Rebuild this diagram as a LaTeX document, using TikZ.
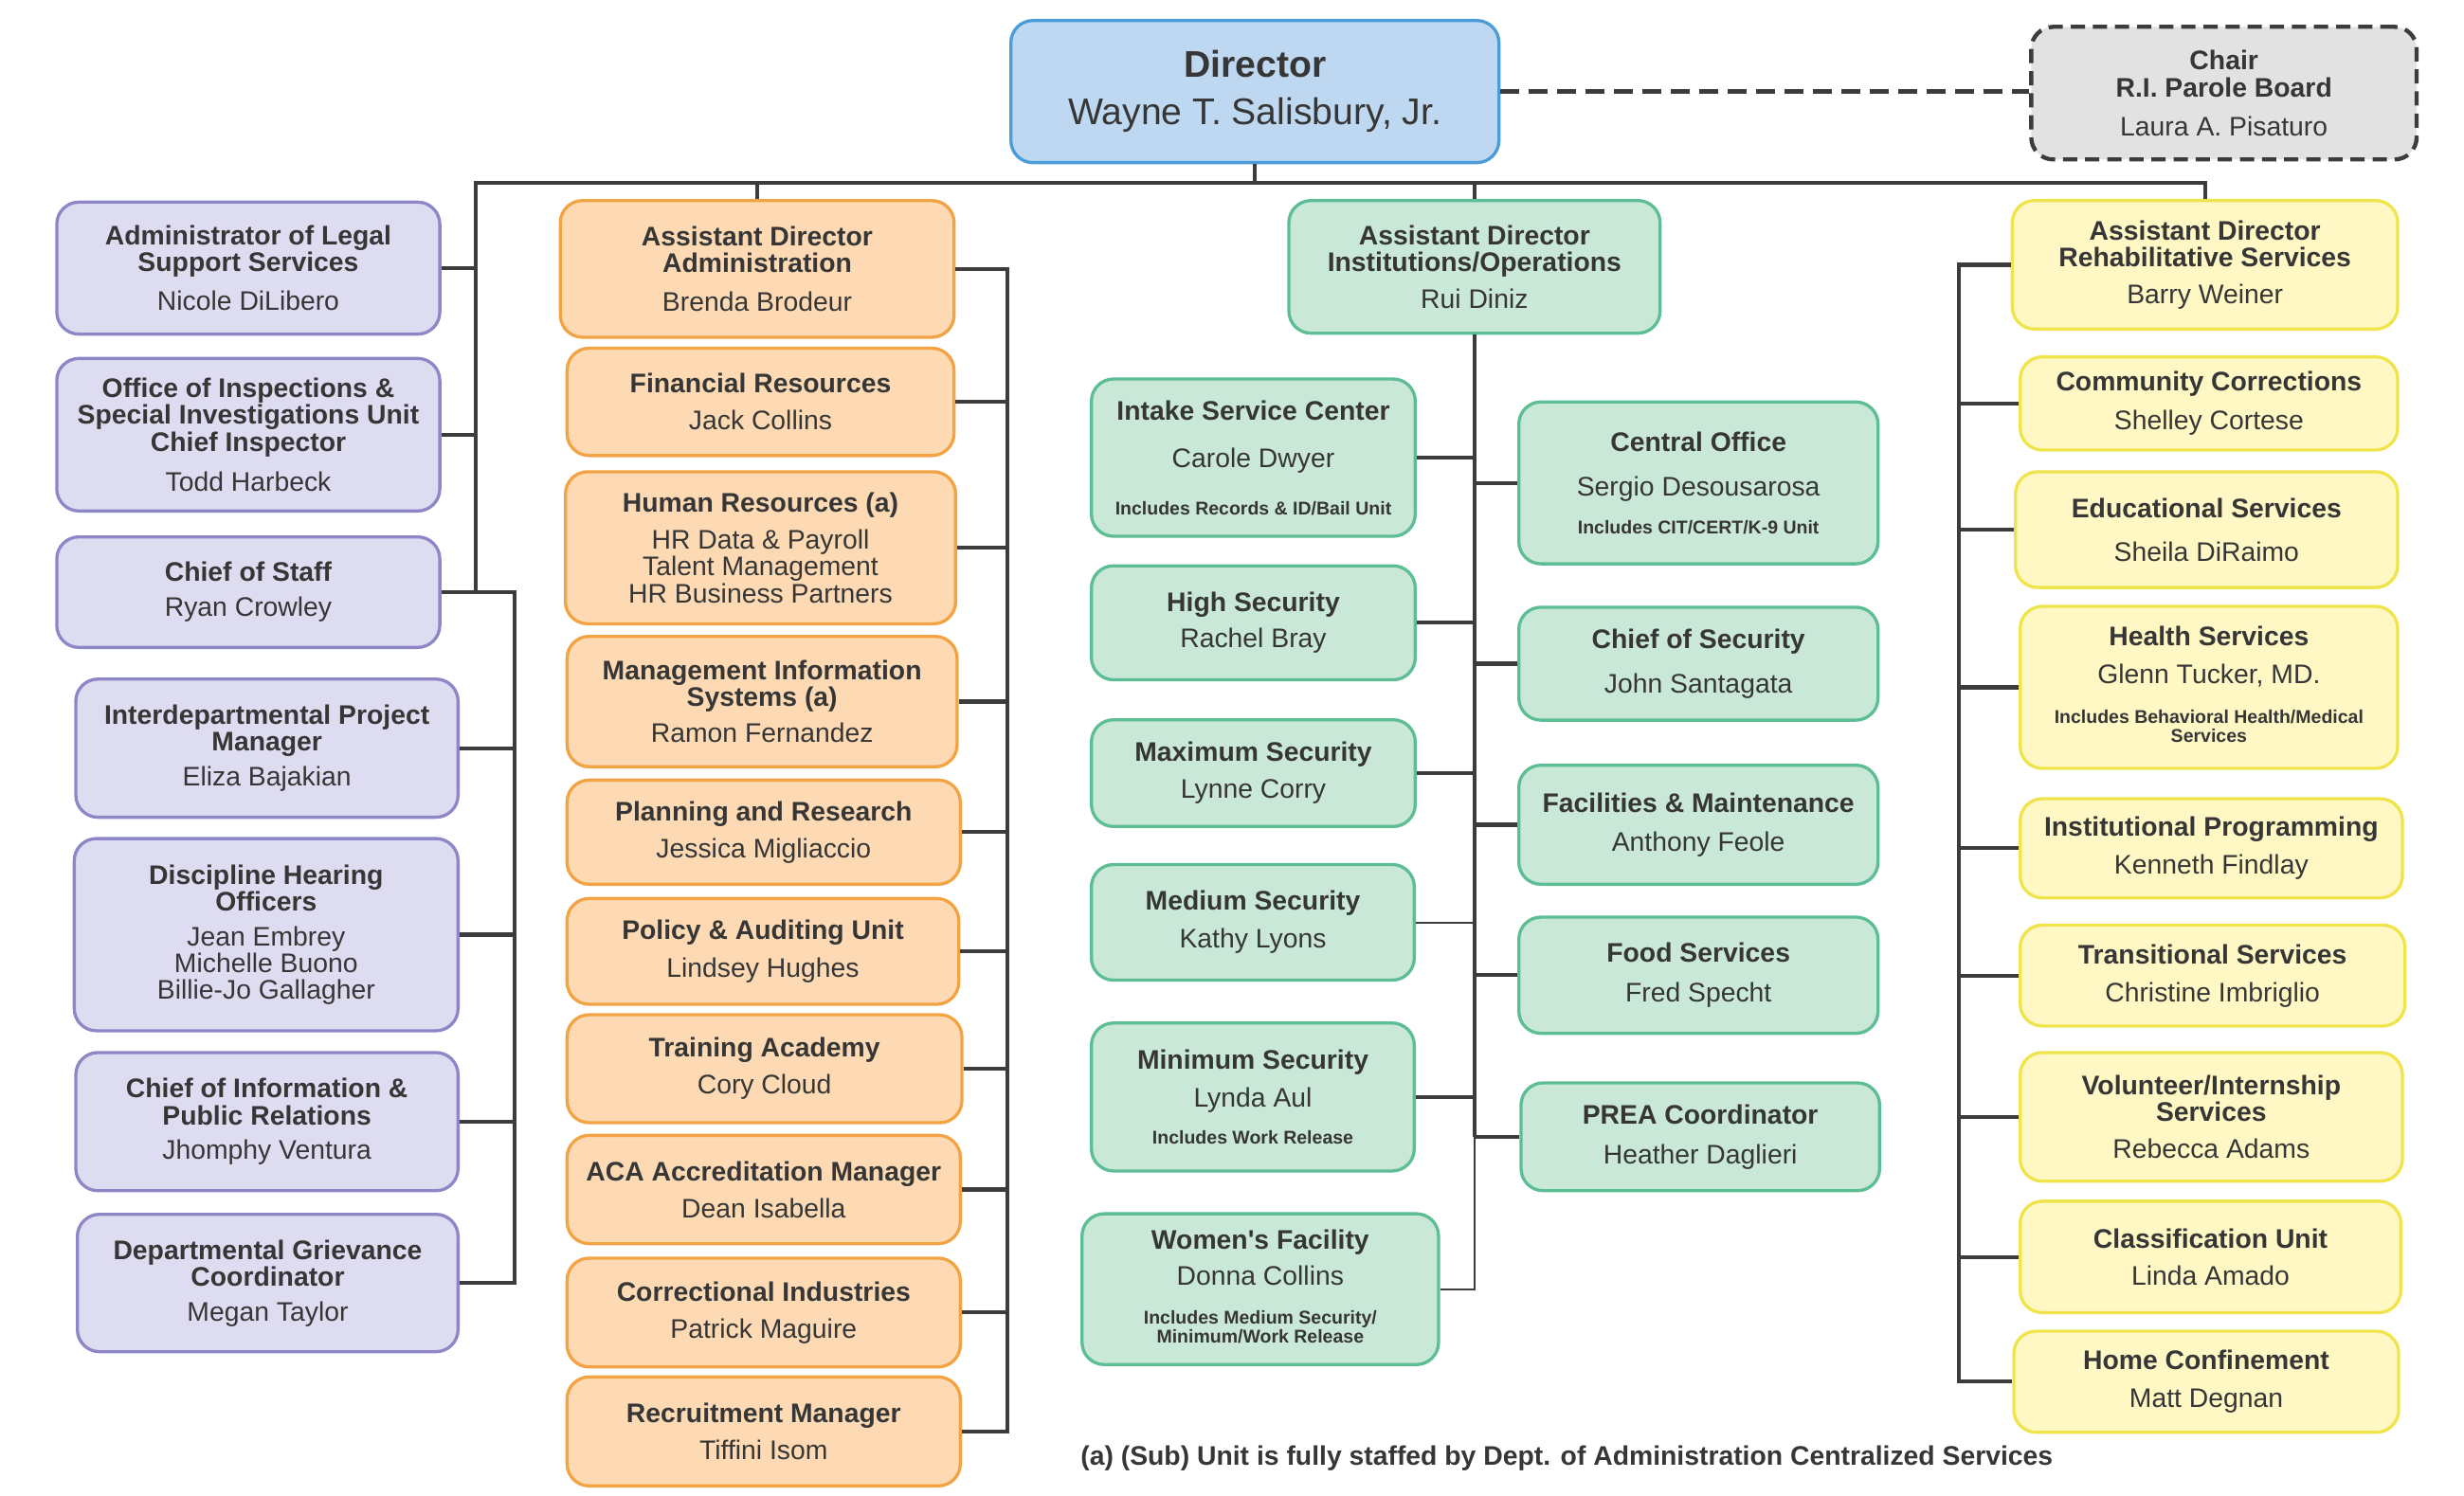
\documentclass[tikz,border=0pt]{standalone}
\usepackage{fontspec}
\setmainfont{Liberation Sans}
\usepackage{tikz}
\usetikzlibrary{shapes,arrows.meta}

\definecolor{txtGray}{HTML}{363636}
\definecolor{lineGray}{HTML}{3C3C3C}
\definecolor{dirFill}{HTML}{BFD8F1}
\definecolor{dirDraw}{HTML}{4A9DD8}
\definecolor{chairFill}{HTML}{E2E2E2}
\definecolor{purpleFill}{HTML}{DEDCF1}
\definecolor{purpleDraw}{HTML}{8E87C7}
\definecolor{orangeFill}{HTML}{FDDAB3}
\definecolor{orangeDraw}{HTML}{F2A445}
\definecolor{greenFill}{HTML}{CAE8D8}
\definecolor{greenDraw}{HTML}{5DBD95}
\definecolor{yellowFill}{HTML}{FFF8C5}
\definecolor{yellowDraw}{HTML}{EFE44C}

\newcommand{\notefont}{\fontsize{11.7}{12}\selectfont\bfseries}

\begin{document}
\begin{tikzpicture}[x=1pt, y=-1pt,
  orgBox/.style={rounded corners=14pt, line width=2pt, align=center, inner sep=1pt, text=txtGray, font=\fontsize{17}{17}\selectfont},
  dirBox/.style={orgBox, fill=dirFill, draw=dirDraw, font=\fontsize{23.5}{24}\selectfont},
  chairBox/.style={orgBox, fill=chairFill, draw=lineGray, line width=2.6pt, dash pattern=on 9pt off 5pt},
  purpleBox/.style={orgBox, fill=purpleFill, draw=purpleDraw},
  orangeBox/.style={orgBox, fill=orangeFill, draw=orangeDraw},
  greenBox/.style={orgBox, fill=greenFill, draw=greenDraw},
  yellowBox/.style={orgBox, fill=yellowFill, draw=yellowDraw},
  link/.style={draw=lineGray, line width=2.5pt},
  thinLink/.style={draw=lineGray, line width=1.2pt},
  dashLink/.style={draw=lineGray, line width=3.2pt, dash pattern=on 12pt off 6pt}]

\useasboundingbox (0,0) rectangle (1560,947);

% top
\node[dirBox, minimum width=309, minimum height=90] (unitDirector) at (794.5,58) {\textbf{Director}\\[6pt]Wayne T. Salisbury, Jr.};
\node[chairBox, minimum width=244, minimum height=84] (unitChair) at (1408,59) {\textbf{Chair}\\\textbf{R.I. Parole Board}\\[7.5pt]Laura A. Pisaturo};

% staff offices
\node[purpleBox, minimum width=242.5, minimum height=83.6] (unitLegal)     at (157.2,169.8) {\textbf{Administrator of Legal}\\\textbf{Support Services}\\[7.5pt]Nicole DiLibero};
\node[purpleBox, minimum width=242.5, minimum height=96.6] (unitInspect)   at (157.2,275.3) {\textbf{Office of Inspections \&}\\\textbf{Special Investigations Unit}\\\textbf{Chief Inspector}\\[8.5pt]Todd Harbeck};
\node[purpleBox, minimum width=242.5, minimum height=70]   (unitStaff)     at (157.2,375)   {\textbf{Chief of Staff}\\[5pt]Ryan Crowley};
\node[purpleBox, minimum width=242,   minimum height=87.5] (unitProject)   at (169,473.8)   {\textbf{Interdepartmental Project}\\\textbf{Manager}\\[5pt]Eliza Bajakian};
\node[purpleBox, minimum width=243,   minimum height=121.7](unitHearing)   at (168.5,591.9) {\textbf{Discipline Hearing}\\\textbf{Officers}\\[5pt]Jean Embrey\\Michelle Buono\\Billie-Jo Gallagher};
\node[purpleBox, minimum width=242,   minimum height=87.5] (unitInfo)      at (169,710.3)   {\textbf{Chief of Information \&}\\\textbf{Public Relations}\\[5pt]Jhomphy Ventura};
\node[purpleBox, minimum width=241,   minimum height=87]   (unitGrievance) at (169.5,812.5) {\textbf{Departmental Grievance}\\\textbf{Coordinator}\\[5pt]Megan Taylor};

% administration
\node[orangeBox, minimum width=249.3, minimum height=86.5] (unitAdmin)      at (479.4,170.3) {\textbf{Assistant Director}\\\textbf{Administration}\\[7.5pt]Brenda Brodeur};
\node[orangeBox, minimum width=245,   minimum height=68]   (unitFinance)    at (481.5,254.5) {\textbf{Financial Resources}\\[6.5pt]Jack Collins};
\node[orangeBox, minimum width=247,   minimum height=96.3] (unitHR)         at (481.5,346.9) {\textbf{Human Resources (a)}\\[6.5pt]HR Data \& Payroll\\Talent Management\\HR Business Partners};
\node[orangeBox, minimum width=247,   minimum height=82.6] (unitMIS)        at (482.5,444.3) {\textbf{Management Information}\\\textbf{Systems (a)}\\[6pt]Ramon Fernandez};
\node[orangeBox, minimum width=249,   minimum height=66]   (unitPlanning)   at (483.5,527)   {\textbf{Planning and Research}\\[6.5pt]Jessica Migliaccio};
\node[orangeBox, minimum width=248,   minimum height=67]   (unitPolicy)     at (483,602.5)   {\textbf{Policy \& Auditing Unit}\\[6.5pt]Lindsey Hughes};
\node[orangeBox, minimum width=250,   minimum height=68.4] (unitTraining)   at (484,676.8)   {\textbf{Training Academy}\\[6.5pt]Cory Cloud};
\node[orangeBox, minimum width=249,   minimum height=68.6] (unitACA)        at (483.5,753.3) {\textbf{ACA Accreditation Manager}\\[6.5pt]Dean Isabella};
\node[orangeBox, minimum width=249,   minimum height=68.9] (unitIndustries) at (483.5,831.2) {\textbf{Correctional Industries}\\[6.5pt]Patrick Maguire};
\node[orangeBox, minimum width=249,   minimum height=69]   (unitRecruit)    at (483.5,906.5) {\textbf{Recruitment Manager}\\[6.5pt]Tiffini Isom};

% institutions/operations
\node[greenBox, minimum width=235,   minimum height=84]   (unitInst)       at (933.5,169)    {\textbf{Assistant Director}\\\textbf{Institutions/Operations}\\[6.5pt]Rui Diniz};
\node[greenBox, minimum width=205,   minimum height=99.6] (unitIntake)     at (793.5,289.8)  {\textbf{Intake Service Center}\\[13pt]Carole Dwyer\\[13pt]{\notefont Includes Records \& ID/Bail Unit}};
\node[greenBox, minimum width=205,   minimum height=72.2] (unitHigh)       at (793.5,394.4)  {\textbf{High Security}\\[6pt]Rachel Bray};
\node[greenBox, minimum width=205,   minimum height=67.6] (unitMax)        at (793.5,489.6)  {\textbf{Maximum Security}\\[6.5pt]Lynne Corry};
\node[greenBox, minimum width=204.4, minimum height=73.2] (unitMedium)     at (793.2,584.1)  {\textbf{Medium Security}\\[7pt]Kathy Lyons};
\node[greenBox, minimum width=204.4, minimum height=93.7] (unitMinimum)    at (793.2,694.7)  {\textbf{Minimum Security}\\[7pt]Lynda Aul\\[6pt]{\notefont Includes Work Release}};
\node[greenBox, minimum width=225.7, minimum height=95.5] (unitWomen)      at (797.9,816.4)  {\textbf{Women\textquotesingle s Facility}\\[6pt]Donna Collins\\[7.5pt]{\notefont\begin{tabular}[t]{@{}c@{}}Includes Medium Security/\\Minimum/Work Release\end{tabular}}};
\node[greenBox, minimum width=227.4, minimum height=102.5](unitCentral)    at (1075.3,305.8) {\textbf{Central Office}\\[11pt]Sergio Desousarosa\\[7pt]{\notefont Includes CIT/CERT/K-9 Unit}};
\node[greenBox, minimum width=227.4, minimum height=71.5] (unitSecurity)   at (1075.3,420.3) {\textbf{Chief of Security}\\[11pt]John Santagata};
\node[greenBox, minimum width=227.4, minimum height=75.4] (unitFacilities) at (1075.3,522.3) {\textbf{Facilities \& Maintenance}\\[7.5pt]Anthony Feole};
\node[greenBox, minimum width=227.4, minimum height=73.6] (unitFood)       at (1075.3,617.6) {\textbf{Food Services}\\[8pt]Fred Specht};
\node[greenBox, minimum width=227,   minimum height=68.3] (unitPREA)       at (1076.5,719.9) {\textbf{PREA Coordinator}\\[8pt]Heather Daglieri};

% rehabilitative services
\node[yellowBox, minimum width=244,   minimum height=81.4] (unitRehab)       at (1396,167.7)   {\textbf{Assistant Director}\\\textbf{Rehabilitative Services}\\[6.5pt]Barry Weiner};
\node[yellowBox, minimum width=239,   minimum height=59]   (unitCommunity)   at (1398.5,255.5) {\textbf{Community Corrections}\\[7.5pt]Shelley Cortese};
\node[yellowBox, minimum width=242,   minimum height=73.3] (unitEducation)   at (1397,335.4)   {\textbf{Educational Services}\\[10.5pt]Sheila DiRaimo};
\node[yellowBox, minimum width=239,   minimum height=102.6](unitHealth)      at (1398.5,435.3) {\textbf{Health Services}\\[7pt]Glenn Tucker, MD.\\[8pt]{\notefont\begin{tabular}[t]{@{}c@{}}Includes Behavioral Health/Medical\\Services\end{tabular}}};
\node[yellowBox, minimum width=242,   minimum height=62.8] (unitProgramming) at (1400,537.2)   {\textbf{Institutional Programming}\\[7pt]Kenneth Findlay};
\node[yellowBox, minimum width=243.6, minimum height=63.9] (unitTransition)  at (1400.8,617.8) {\textbf{Transitional Services}\\[7pt]Christine Imbriglio};
\node[yellowBox, minimum width=242,   minimum height=81.5] (unitVolunteer)   at (1400,707.3)   {\textbf{Volunteer/Internship}\\\textbf{Services}\\[6pt]Rebecca Adams};
\node[yellowBox, minimum width=241,   minimum height=70.6] (unitClass)       at (1399.5,796)   {\textbf{Classification Unit}\\[6.5pt]Linda Amado};
\node[yellowBox, minimum width=243.6, minimum height=64]   (unitHome)        at (1396.8,875)   {\textbf{Home Confinement}\\[7pt]Matt Degnan};

\coordinate (busL) at (301,116);
\coordinate (spineStaff) at (326,0);
\coordinate (spineAdmin) at (638,0);
\coordinate (spineRehab) at (1240,0);

% bus and stubs
\draw [dashLink] (unitDirector.east) -- (unitDirector.east -| unitChair.west);
\draw [link] (busL |- unitStaff.east) -- (busL) -- (busL -| unitRehab.north) -- (unitRehab.north);
\draw [link] (unitDirector.south) -- (unitDirector.south |- busL);
\draw [link] (unitAdmin.north)    -- (unitAdmin.north |- busL);
\draw [link] (unitInst.north)     -- (unitInst.north |- busL);

% staff offices
\draw [link] (unitLegal.east)   -- (unitLegal.east -| busL);
\draw [link] (unitInspect.east) -- (unitInspect.east -| busL);
\draw [link] (unitStaff.east) -- (unitStaff.east -| spineStaff) -- (unitGrievance.east -| spineStaff) -- (unitGrievance.east);
\draw [link] (unitProject.east) -- (unitProject.east -| spineStaff);
\draw [link] (unitHearing.east) -- (unitHearing.east -| spineStaff);
\draw [link] (unitInfo.east)    -- (unitInfo.east -| spineStaff);

% administration
\draw [link] (unitAdmin.east) -- (unitAdmin.east -| spineAdmin) -- (unitRecruit.east -| spineAdmin) -- (unitRecruit.east);
\draw [link] (unitFinance.east)    -- (unitFinance.east -| spineAdmin);
\draw [link] (unitHR.east)         -- (unitHR.east -| spineAdmin);
\draw [link] (unitMIS.east)        -- (unitMIS.east -| spineAdmin);
\draw [link] (unitPlanning.east)   -- (unitPlanning.east -| spineAdmin);
\draw [link] (unitPolicy.east)     -- (unitPolicy.east -| spineAdmin);
\draw [link] (unitTraining.east)   -- (unitTraining.east -| spineAdmin);
\draw [link] (unitACA.east)        -- (unitACA.east -| spineAdmin);
\draw [link] (unitIndustries.east) -- (unitIndustries.east -| spineAdmin);

% institutions/operations
\draw [link]     (unitInst.south) -- (unitInst.south |- unitPREA.west);
\draw [thinLink] (unitInst.south |- unitPREA.west) -- (unitInst.south |- unitWomen.east) -- (unitWomen.east);
\draw [link]     (unitIntake.east)      -- (unitIntake.east -| unitInst.south);
\draw [link]     (unitHigh.east)        -- (unitHigh.east -| unitInst.south);
\draw [link]     (unitMax.east)         -- (unitMax.east -| unitInst.south);
\draw [thinLink] (unitMedium.east)      -- (unitMedium.east -| unitInst.south);
\draw [link]     (unitMinimum.east)     -- (unitMinimum.east -| unitInst.south);
\draw [link]     (unitCentral.west)     -- (unitCentral.west -| unitInst.south);
\draw [link]     (unitSecurity.west)    -- (unitSecurity.west -| unitInst.south);
\draw [link]     (unitFacilities.west)  -- (unitFacilities.west -| unitInst.south);
\draw [link]     (unitFood.west)        -- (unitFood.west -| unitInst.south);
\draw [link]     (unitPREA.west)        -- (unitPREA.west -| unitInst.south);

% rehabilitative services
\draw [link] (unitRehab.west) -- (unitRehab.west -| spineRehab) -- (unitHome.west -| spineRehab) -- (unitHome.west);
\draw [link] (unitCommunity.west)   -- (unitCommunity.west -| spineRehab);
\draw [link] (unitEducation.west)   -- (unitEducation.west -| spineRehab);
\draw [link] (unitHealth.west)      -- (unitHealth.west -| spineRehab);
\draw [link] (unitProgramming.west) -- (unitProgramming.west -| spineRehab);
\draw [link] (unitTransition.west)  -- (unitTransition.west -| spineRehab);
\draw [link] (unitVolunteer.west)   -- (unitVolunteer.west -| spineRehab);
\draw [link] (unitClass.west)       -- (unitClass.west -| spineRehab);

\node [anchor=base west, inner sep=0, text=txtGray, font=\fontsize{17}{17}\selectfont\bfseries] (footNote) at (684,928) {(a) (Sub) Unit is fully staffed by Dept. of Administration Centralized Services};
\end{tikzpicture}
\end{document}
